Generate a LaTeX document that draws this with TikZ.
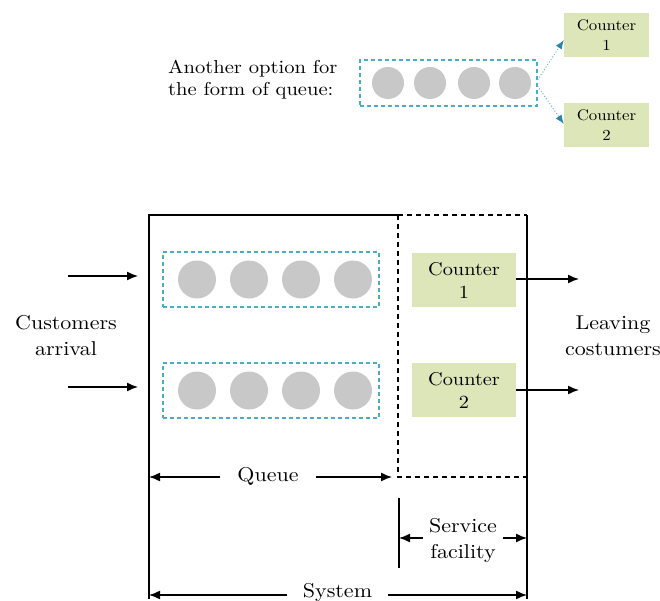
\documentclass[tikz,border=0pt]{standalone}
\usepackage{fontspec}
\setmainfont{lmroman10-regular.otf}[FakeStretch=1.1]
\usetikzlibrary{arrows.meta}
\definecolor{qblue}{HTML}{4BACC6}
\definecolor{pgray}{HTML}{C8C8C8}
\definecolor{cgreen}{HTML}{DDE6B9}
\definecolor{tipblue}{HTML}{2C85A8}
\definecolor{dotblue}{HTML}{6AB4D4}
\tikzset{
  qbox/.style={draw=qblue, line width=1.2pt, dash pattern=on 4pt off 3pt},
  person/.style={circle, fill=pgray, minimum size=38pt, inner sep=0pt},
  smallperson/.style={circle, fill=pgray, minimum size=32pt, inner sep=0pt},
  counter/.style={fill=cgreen, minimum width=104pt, minimum height=54pt, inner sep=0pt, align=center, font=\fontsize{18.5}{23}\selectfont},
  smallcounter/.style={fill=cgreen, minimum width=85pt, minimum height=44pt, inner sep=0pt, align=center, font=\fontsize{15.3}{20}\selectfont},
  lbl/.style={align=center, font=\fontsize{20}{26}\selectfont},
  frame/.style={line width=1.4pt},
  dframe/.style={line width=1.4pt, dash pattern=on 5pt off 4pt},
  arr/.style={line width=1.4pt, -{Latex[length=11pt,width=9pt]}},
  darr/.style={dotblue, line width=1pt, dotted, -{Latex[length=9pt,width=7pt,color=tipblue]}}
}
\begin{document}
\begin{tikzpicture}[x=1pt,y=-1pt]
\useasboundingbox (0,0) rectangle (660,601);
% ---------- top part ----------
\node[align=left, anchor=west, font=\fontsize{18.7}{22}\selectfont, inner sep=0pt] (note) at (168,80) {Another option for\\the form of queue:};
\node[qbox, minimum width=177pt, minimum height=46pt, inner sep=0pt] (tq) at (448.5,83) {};
\node[smallperson] (tp1) at (388,83) {};
\node[smallperson] (tp2) at (430,83) {};
\node[smallperson] (tp3) at (474,83) {};
\node[smallperson] (tp4) at (515,83) {};
\node[smallcounter] (tc1) at (606.5,35) {Counter\\1};
\node[smallcounter] (tc2) at (606.5,125.5) {Counter\\2};
\draw[darr] (tq.east |- 0,80) -- (tc1.west |- 0,40);
\draw[darr] (tq.east |- 0,86) -- (tc2.west |- 0,124);
% ---------- system frame ----------
\coordinate (TL) at (149,215);
\coordinate (TM) at (398,215);
\coordinate (TR) at (527,215);
\coordinate (BL) at (149,599);
\coordinate (BR) at (527,599);
\coordinate (DM) at (398,477);
\coordinate (DR) at (527,477);
\draw[frame] (BL) -- (TL) -- (TM);
\draw[dframe] (TM) -- (TR);
\draw[frame] (TR) -- (BR);
\draw[dframe] (TM) -- (DM) -- (DR);
% queues
\node[qbox, minimum width=216pt, minimum height=55pt, inner sep=0pt] (q1) at (271,279.5) {};
\node[qbox, minimum width=216pt, minimum height=55pt, inner sep=0pt] (q2) at (271,390.5) {};
\foreach \x [count=\i] in {197,249,301,353}{
  \node[person] (a\i) at (\x,279.5) {};
  \node[person] (b\i) at (\x,390.5) {};
}
% counters
\node[counter] (c1) at (464,280) {Counter\\1};
\node[counter] (c2) at (464,390) {Counter\\2};
% arrivals
\coordinate (in1) at (68,276);
\coordinate (in1e) at (138,276);
\coordinate (in2) at (68,387);
\coordinate (in2e) at (138,387);
\draw[arr] (in1) -- (in1e);
\draw[arr] (in2) -- (in2e);
\node[lbl] (cust) at (66,336) {Customers\\arrival};
% leaving
\coordinate (out1) at (579,279);
\coordinate (out2) at (579,390);
\draw[arr] (c1.east |- out1) -- (out1);
\draw[arr] (c2.east |- out2) -- (out2);
\node[lbl] (leave) at (613,336) {Leaving\\costumers};
% queue dimension
\node[lbl, inner xsep=17pt] (queue) at (268,476) {Queue};
\coordinate (qL) at (149,477);
\coordinate (qR) at (392,477);
\draw[arr] (queue.west |- qL) -- (qL);
\draw[arr] (queue.east |- qR) -- (qR);
% service facility
\coordinate (sTop) at (399,498);
\coordinate (sBot) at (399,568);
\draw[frame] (sTop) -- (sBot);
\node[lbl, inner xsep=6pt] (serv) at (463,540) {Service\\facility};
\coordinate (sL) at (399,538);
\coordinate (sR) at (527,538);
\draw[arr] (serv.west |- sL) -- (sL);
\draw[arr] (serv.east |- sR) -- (sR);
% system
\node[lbl, anchor=base, inner xsep=16pt] (sys) at (337.5,597) {System};
\coordinate (yL) at (149,595);
\coordinate (yR) at (527,595);
\draw[arr] (sys.west |- yL) -- (yL);
\draw[arr] (sys.east |- yR) -- (yR);
\end{tikzpicture}
\end{document}
